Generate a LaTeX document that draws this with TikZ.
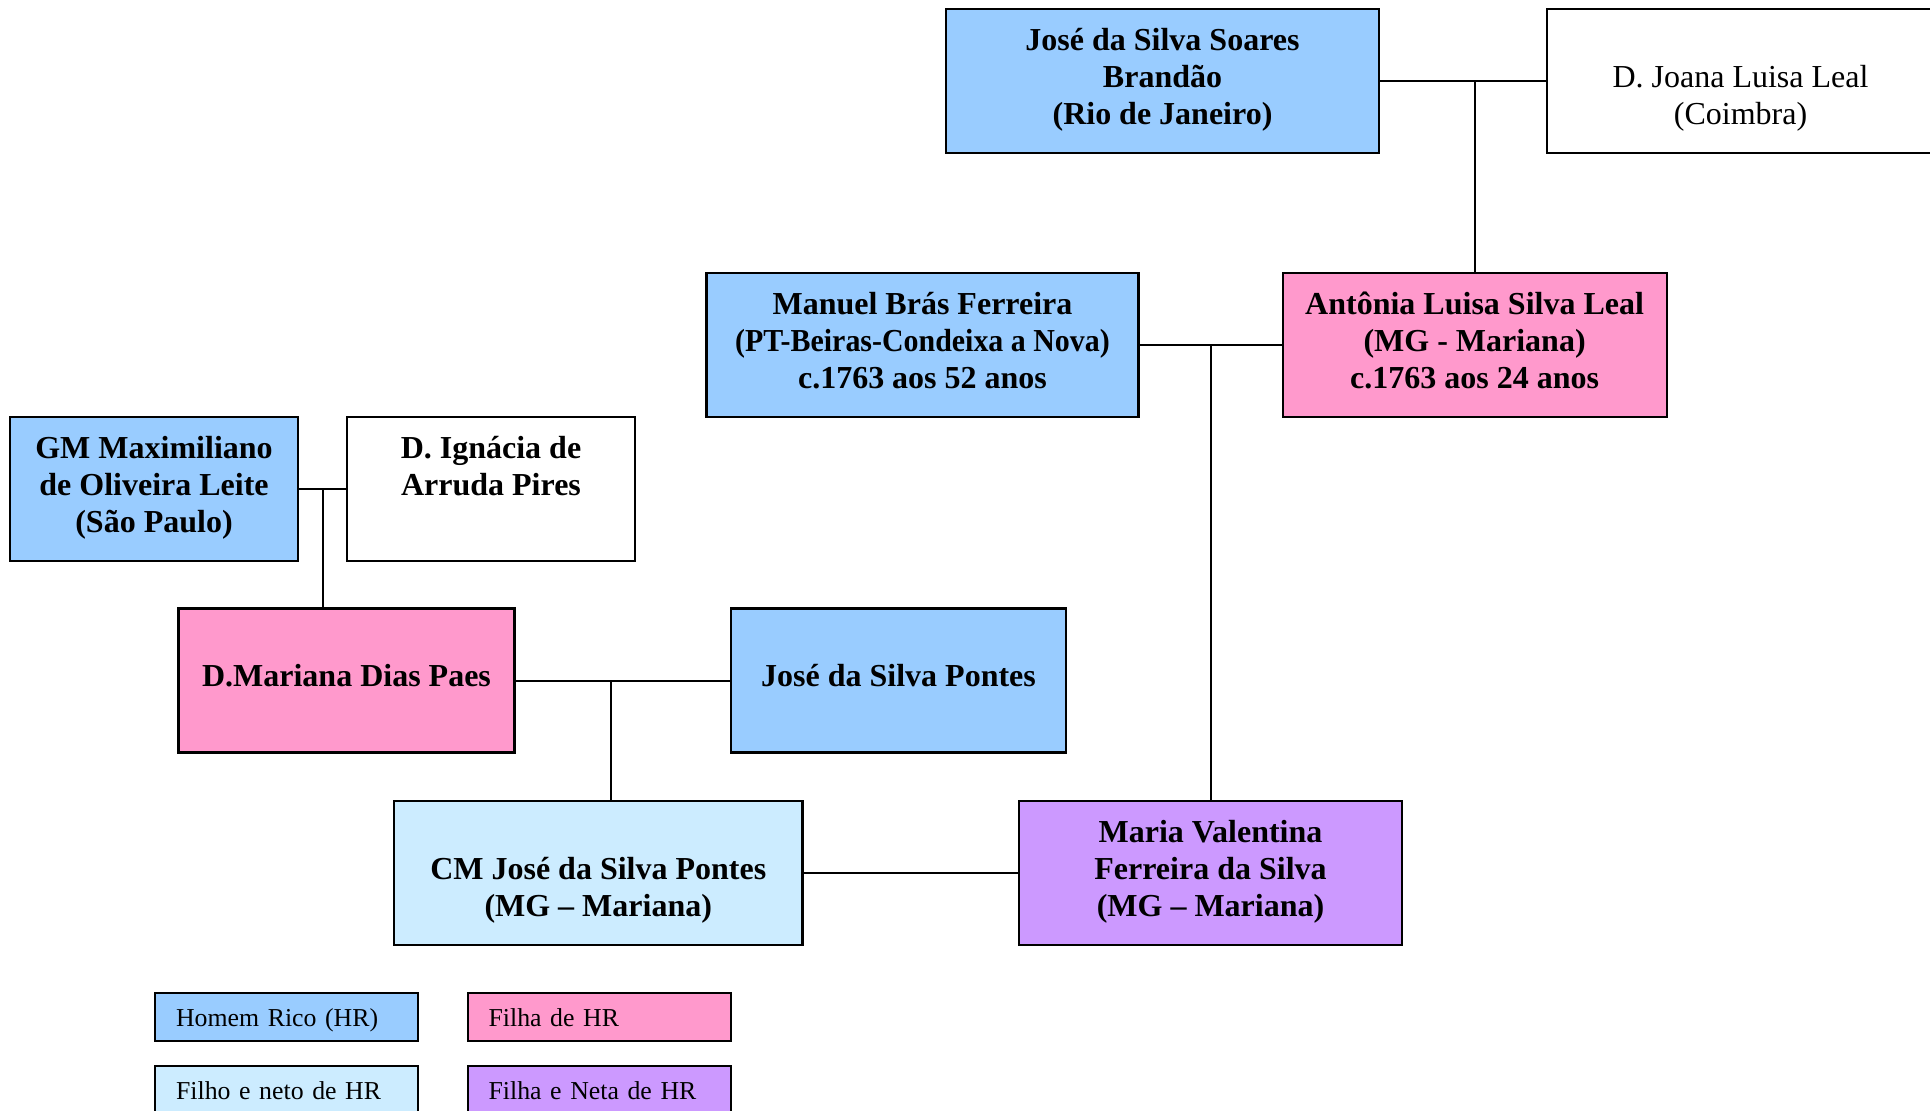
\documentclass[tikz,border=0pt]{standalone}
\usepackage{graphicx}
\usepackage{fontspec}
\setmainfont{Liberation Serif}
\definecolor{hrblue}{HTML}{99CCFF}
\definecolor{hrpink}{HTML}{FF99CC}
\definecolor{hrlight}{HTML}{CCECFF}
\definecolor{hrpurple}{HTML}{CC99FF}
\newcommand\lstrut{\rule[-6.2pt]{0pt}{18.5pt}}
\begin{document}
\begin{tikzpicture}[x=0.5pt,y=-0.5pt,
  person/.style={draw=black,line width=1.1pt,align=center,inner sep=0pt,
    minimum height=72pt,font=\fontsize{16}{18.5}\selectfont\bfseries},
  plain/.style={person,font=\fontsize{16}{18.5}\selectfont},
  legendbox/.style={draw=black,line width=1.1pt,anchor=west,align=left,
    text width=110.5pt,inner xsep=10.5pt,inner ysep=0pt,minimum height=24pt,
    text height=11pt,text depth=1.4pt,
    font=\fontsize{12.9}{15}\selectfont},
  link/.style={draw=black,line width=1pt}]
\useasboundingbox (0,0) rectangle (1930,1111);
% generation 1
\node[person,fill=hrblue,minimum width=216.5pt] (jose) at (1162.5,81)
  {\lstrut José da Silva Soares\\\lstrut Brandão\\\lstrut (Rio de Janeiro)};
\node[plain,fill=white,minimum width=193.5pt] (joana) at (1740.5,81)
  {\lstrut\\\lstrut D. Joana Luisa Leal\\\lstrut (Coimbra)};
% generation 2
\node[person,fill=hrblue,minimum width=216pt] (manuel) at (922.5,345)
  {\lstrut Manuel Brás Ferreira\\\lstrut \scalebox{0.935}[1]{(PT-Beiras-Condeixa a Nova)}\\\lstrut c.1763 aos 52 anos};
\node[person,fill=hrpink,minimum width=192pt] (antonia) at (1474.6,345)
  {\lstrut Antônia Luisa Silva Leal\\\lstrut (MG - Mariana)\\\lstrut c.1763 aos 24 anos};
\node[person,fill=hrblue,minimum width=144pt] (gm) at (154,489)
  {\lstrut GM Maximiliano\\\lstrut de Oliveira Leite\\\lstrut (São Paulo)};
\node[person,fill=white,minimum width=144pt] (ignacia) at (491,489)
  {\lstrut D. Ignácia de\\\lstrut Arruda Pires\\\lstrut};
% generation 3
\node[person,fill=hrpink,minimum width=168pt] (mariana) at (346.5,680.5)
  {\lstrut D.Mariana Dias Paes};
\node[person,fill=hrblue,minimum width=167.5pt] (pontes) at (898.5,680.5)
  {\lstrut José da Silva Pontes};
\node[person,fill=hrlight,minimum width=204.25pt] (cm) at (598.25,873)
  {\lstrut\\\lstrut CM José da Silva Pontes\\\lstrut (MG – Mariana)};
\node[person,fill=hrpurple,minimum width=191.5pt] (maria) at (1210.5,873)
  {\lstrut Maria Valentina\\\lstrut Ferreira da Silva\\\lstrut (MG – Mariana)};
% connectors
\coordinate (c1) at (1474.6,81);
\coordinate (c2) at (1211,345);
\coordinate (c3) at (322.5,489);
\coordinate (c4) at (610.5,680.5);
\draw[link] (jose.east) -- (joana.west);
\draw[link] (c1) -- (c1 |- antonia.north);
\draw[link] (manuel.east) -- (antonia.west);
\draw[link] (c2) -- (c2 |- maria.north);
\draw[link] (gm.east) -- (ignacia.west);
\draw[link] (c3) -- (c3 |- mariana.north);
\draw[link] (mariana.east) -- (pontes.west);
\draw[link] (c4) -- (c4 |- cm.north);
\draw[link] (cm.east) -- (maria.west);
% legend
\node[legendbox,fill=hrblue] (lg1) at (154,1017) {Homem Rico (HR)};
\node[legendbox,fill=hrpink] (lg2) at (466.5,1017) {Filha de HR};
\node[legendbox,fill=hrlight] (lg3) at (154,1090) {Filho e neto de HR};
\node[legendbox,fill=hrpurple] (lg4) at (466.5,1090) {Filha e Neta de HR};
\end{tikzpicture}
\end{document}
